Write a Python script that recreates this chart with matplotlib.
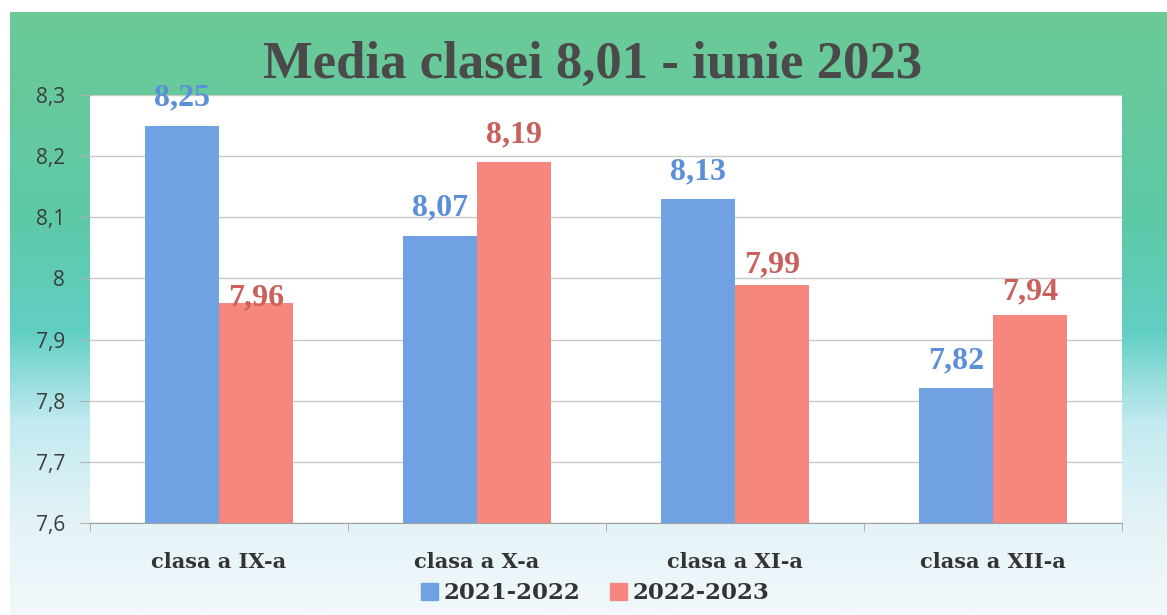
import numpy as np
import matplotlib
matplotlib.use('Agg')
import matplotlib.pyplot as plt
from matplotlib.colors import LinearSegmentedColormap
from matplotlib.patches import Patch

categorii = ['clasa a IX-a', 'clasa a X-a', 'clasa a XI-a', 'clasa a XII-a']
serii = ['2021-2022', '2022-2023']
medii_2122 = [8.25, 8.07, 8.13, 7.82]
medii_2223 = [7.96, 8.19, 7.99, 7.94]
y_ticks = [7.6, 7.7, 7.8, 7.9, 8.0, 8.1, 8.2, 8.3]
titlu = 'Media clasei 8,01 - iunie 2023'

culori_bare = ['#70a2e3', '#f5877f']
culori_etichete = ['#5b8fd8', '#c9605b']
# distanta (px) dintre eticheta si varful barei, ca in original
dist_etichete = [[20, 20, 20, 20], [-3, 20, 12, 16]]
serif_ingust = ['Liberation Serif', 'DejaVu Serif']
serif_lat = ['DejaVu Serif', 'Liberation Serif']

fig = plt.figure(figsize=(11.67, 6.15), dpi=100)
fig.patch.set_facecolor('white')

# fundal cu degrade (verde sus -> turcoaz -> alb jos)
bg = fig.add_axes([10 / 1167, 0, 1 - 10 / 1167, 1 - 12 / 615], zorder=-10)
cmap = LinearSegmentedColormap.from_list('fundal', [
    (0.0, '#6cca96'), (0.35, '#5ec9a8'), (0.53, '#62cfc4'),
    (0.68, '#c2eaf0'), (0.85, '#e4f3f7'), (1.0, '#f2f8fb')])
grad = np.linspace(0, 1, 256).reshape(-1, 1)
bg.imshow(grad, aspect='auto', cmap=cmap, extent=[0, 1, 1, 0])
bg.set_axis_off()

ax = fig.add_axes([90 / 1167, 1 - 523 / 615, (1122 - 90) / 1167, (523 - 95) / 615])
ax.set_facecolor('white')

x = np.arange(len(categorii))
w = 0.285
valori = [medii_2122, medii_2223]
for i, (vals, nume) in enumerate(zip(valori, serii)):
    pos = x + (i - 0.5) * w
    ax.bar(pos, [v - 7.6 for v in vals], width=w, bottom=7.6,
           color=culori_bare[i], label=nume, zorder=3)
    for px, v, d in zip(pos, vals, dist_etichete[i]):
        ax.annotate(f'{v:.2f}'.replace('.', ','), (px, v), xytext=(0, d),
                    textcoords='offset pixels', ha='center', va='baseline',
                    fontsize=23, fontweight='bold', family=serif_ingust,
                    color=culori_etichete[i], zorder=4, annotation_clip=False)

ax.set_xlim(-0.5, 3.5)
ax.set_ylim(7.6, 8.3)
ax.set_yticks(y_ticks)
ax.set_yticklabels([f'{t:g}'.replace('.', ',') for t in y_ticks],
                   fontsize=15, color='#3c3c3c', family=['Open Sans', 'DejaVu Sans'])
ax.tick_params(axis='y', length=7, color='#b0b0b0', pad=11)
ax.grid(axis='y', color='#c8c8c8', linewidth=1, zorder=0)
ax.set_xticks(x)
ax.set_xticklabels(categorii, fontsize=15, fontweight='bold', color='#333333', family=serif_lat)
ax.set_xticks(np.arange(-0.5, 4, 1), minor=True)
ax.tick_params(axis='x', which='major', length=0, pad=21)
ax.tick_params(axis='x', which='minor', length=6, color='#a0a0a0')
for s in ['top', 'right', 'left']:
    ax.spines[s].set_visible(False)
ax.spines['bottom'].set_color('#a0a0a0')

fig.text(0.508, 1 - 65 / 615, titlu, ha='center', va='center', fontsize=38,
         fontweight='bold', color='#4a4a4a', family=serif_ingust)

handles = [Patch(color=c, label=n) for c, n in zip(culori_bare, serii)]
fig.legend(handles=handles, loc='center', bbox_to_anchor=(0.51, 0.035), ncol=2,
           frameon=False, handlelength=0.75, handleheight=0.75, handletextpad=0.25,
           columnspacing=1.3, prop={'family': serif_lat, 'weight': 'bold', 'size': 16.5},
           labelcolor='#333333')

fig.savefig('out.png', dpi=100)
